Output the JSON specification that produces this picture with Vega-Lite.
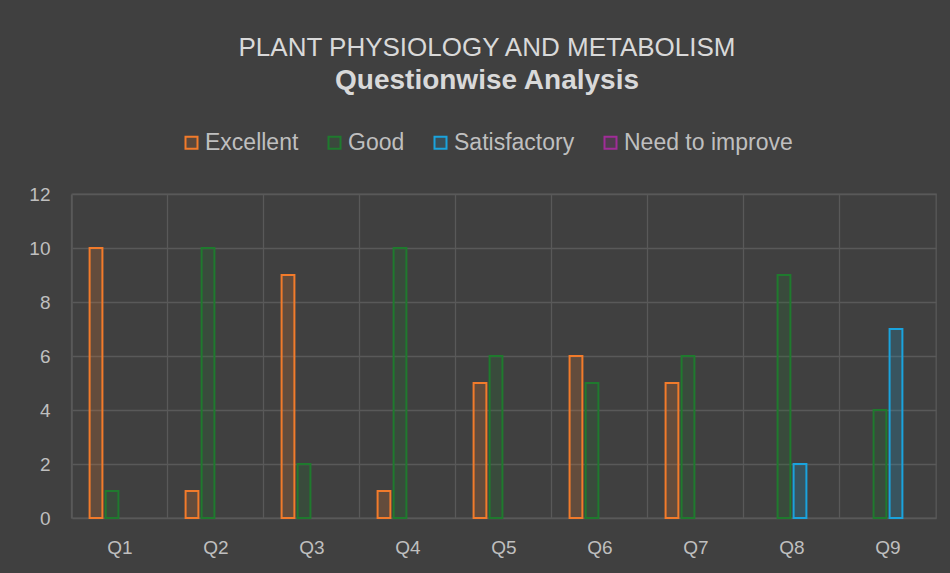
{
  "$schema": "https://vega.github.io/schema/vega-lite/v6.json",
  "width": 864,
  "height": 324,
  "autosize": {"type": "none"},
  "padding": {"left": 72, "top": 194, "right": 14, "bottom": 55},
  "background": "#404040",
  "title": {
    "text": "PLANT PHYSIOLOGY AND METABOLISM",
    "subtitle": "Questionwise Analysis",
    "anchor": "middle",
    "frame": "group",
    "dx": -17,
    "offset": 36,
    "font": "Liberation Sans",
    "fontSize": 26,
    "fontWeight": "normal",
    "color": "#d9d9d9",
    "subtitleFont": "Liberation Sans",
    "subtitleFontSize": 28,
    "subtitleFontWeight": "bold",
    "subtitleColor": "#d9d9d9",
    "subtitlePadding": 6
  },
  "data": {
    "values": [
      {"question": "Q1", "rating": "Excellent", "count": 10},
      {"question": "Q1", "rating": "Good", "count": 1},
      {"question": "Q2", "rating": "Excellent", "count": 1},
      {"question": "Q2", "rating": "Good", "count": 10},
      {"question": "Q3", "rating": "Excellent", "count": 9},
      {"question": "Q3", "rating": "Good", "count": 2},
      {"question": "Q4", "rating": "Excellent", "count": 1},
      {"question": "Q4", "rating": "Good", "count": 10},
      {"question": "Q5", "rating": "Excellent", "count": 5},
      {"question": "Q5", "rating": "Good", "count": 6},
      {"question": "Q6", "rating": "Excellent", "count": 6},
      {"question": "Q6", "rating": "Good", "count": 5},
      {"question": "Q7", "rating": "Excellent", "count": 5},
      {"question": "Q7", "rating": "Good", "count": 6},
      {"question": "Q8", "rating": "Good", "count": 9},
      {"question": "Q8", "rating": "Satisfactory", "count": 2},
      {"question": "Q9", "rating": "Good", "count": 4},
      {"question": "Q9", "rating": "Satisfactory", "count": 7}
    ]
  },
  "mark": {"type": "bar", "strokeWidth": 2, "fillOpacity": 0.2},
  "encoding": {
    "x": {
      "field": "question",
      "type": "nominal",
      "sort": null,
      "scale": {"paddingInner": 0.333, "paddingOuter": 0.1667},
      "axis": {
        "title": null,
        "labelAngle": 0,
        "ticks": false,
        "domain": false,
        "grid": true,
        "bandPosition": -0.25,
        "gridColor": "#595959",
        "gridWidth": 1.3,
        "labelPadding": 20,
        "labelFont": "Liberation Sans",
        "labelFontSize": 19,
        "labelColor": "#bfbfbf"
      }
    },
    "xOffset": {
      "field": "rating",
      "type": "nominal",
      "scale": {"domain": ["Excellent", "Good", "Satisfactory", "Need to improve"], "paddingInner": 0.2, "paddingOuter": 0.1}
    },
    "y": {
      "field": "count",
      "type": "quantitative",
      "scale": {"domain": [0, 12], "nice": false},
      "axis": {
        "title": null,
        "values": [0, 2, 4, 6, 8, 10, 12],
        "ticks": false,
        "domain": false,
        "gridColor": "#595959",
        "gridWidth": 1.3,
        "labelPadding": 22,
        "labelFont": "Liberation Sans",
        "labelFontSize": 19,
        "labelColor": "#bfbfbf"
      }
    },
    "fill": {
      "field": "rating",
      "type": "nominal",
      "scale": {"domain": ["Excellent", "Good", "Satisfactory", "Need to improve"], "range": ["#F27B2B", "#1F7A2E", "#1AA3DD", "#A02C98"]},
      "legend": {
        "title": null,
        "orient": "none",
        "direction": "horizontal",
        "legendX": 108,
        "legendY": -63,
        "symbolType": "square",
        "symbolSize": 144,
        "symbolStrokeWidth": 2,
        "labelFont": "Liberation Sans",
        "labelFontSize": 23,
        "labelColor": "#bfbfbf",
        "labelOffset": 2,
        "labelLimit": 400,
        "columnPadding": 24,
        "encode": {"symbols": {"update": {"fillOpacity": {"value": 0.15}}}}
      }
    },
    "stroke": {
      "field": "rating",
      "type": "nominal",
      "scale": {"domain": ["Excellent", "Good", "Satisfactory", "Need to improve"], "range": ["#F27B2B", "#1F7A2E", "#1AA3DD", "#A02C98"]},
      "legend": {
        "title": null,
        "orient": "none",
        "direction": "horizontal",
        "legendX": 108,
        "legendY": -63,
        "symbolType": "square",
        "symbolSize": 144,
        "symbolStrokeWidth": 2,
        "labelFont": "Liberation Sans",
        "labelFontSize": 23,
        "labelColor": "#bfbfbf",
        "labelOffset": 2,
        "labelLimit": 400,
        "columnPadding": 24,
        "encode": {"symbols": {"update": {"fillOpacity": {"value": 0.15}}}}
      }
    }
  },
  "config": {
    "view": {"stroke": "#595959", "strokeWidth": 1.3}
  }
}
